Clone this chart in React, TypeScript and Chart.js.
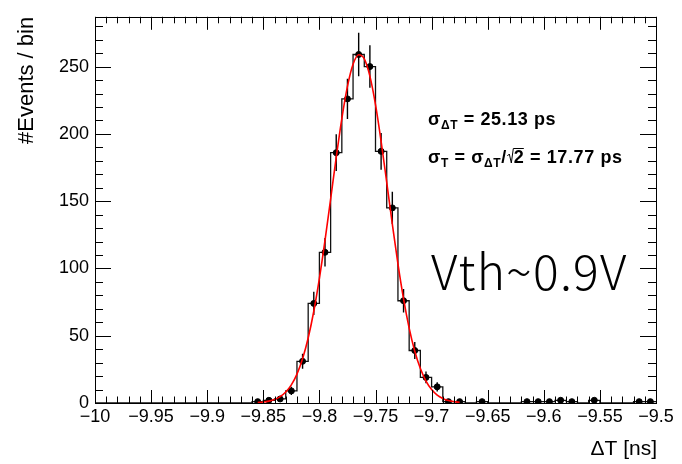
import React, { useEffect, useRef } from "react";
import { Chart, registerables } from "chart.js";

Chart.register(...registerables);

// ---- Data ----
const binCenters = [
  -9.995, -9.985, -9.975, -9.965, -9.955, -9.945, -9.935, -9.925, -9.915, -9.905,
  -9.895, -9.885, -9.875, -9.865, -9.855, -9.845, -9.835, -9.825, -9.815, -9.805,
  -9.795, -9.785, -9.775, -9.765, -9.755, -9.745, -9.735, -9.725, -9.715, -9.705,
  -9.695, -9.685, -9.675, -9.665, -9.655, -9.645, -9.635, -9.625, -9.615, -9.605,
  -9.595, -9.585, -9.575, -9.565, -9.555, -9.545, -9.535, -9.525, -9.515, -9.505,
];
const counts = [
  0, 0, 0, 0, 0, 0, 0, 0, 0, 0,
  0, 0, 0, 0, 1, 2, 3, 9, 31, 74,
  112, 186, 226, 259, 250, 187, 145, 76, 39, 19,
  12, 1, 1, 0, 1, 0, 0, 0, 1, 1,
  1, 2, 1, 0, 2, 0, 0, 0, 1, 1,
];
const binWidth = 0.01;

const fitX = [
  -9.855, -9.85, -9.845, -9.84, -9.835, -9.83, -9.825, -9.82, -9.815, -9.81,
  -9.805, -9.8, -9.795, -9.79, -9.785, -9.78, -9.775, -9.77, -9.765, -9.76,
  -9.755, -9.75, -9.745, -9.74, -9.735, -9.73, -9.725, -9.72, -9.715, -9.71,
  -9.705, -9.7, -9.695, -9.69, -9.685, -9.68, -9.675,
];
const fitY = [
  0.4, 0.7, 1.4, 2.6, 4.7, 8.2, 13.5, 21.5, 32.9, 48.3,
  68.2, 92.6, 120.8, 151.5, 182.5, 211.4, 235.3, 251.7, 258.8, 255.7,
  242.9, 221.7, 194.5, 164.0, 132.9, 103.4, 77.4, 55.7, 38.5, 25.6,
  16.3, 10.0, 5.9, 3.4, 1.8, 1.0, 0.5,
];

const xTickValues = [-10, -9.95, -9.9, -9.85, -9.8, -9.75, -9.7, -9.65, -9.6, -9.55, -9.5];
const xMinorStep = 0.01;
const yTickValues = [0, 50, 100, 150, 200, 250];
const yMinorStep = 10;
const xMin = -10;
const xMax = -9.5;
const yMin = 0;
const yMax = 287;

const xTitle = "\u0394T [ns]";
const yTitle = "#Events / bin";
const sigmaDT = "25.13 ps";
const sigmaT = "17.77 ps";
const vthLabel = "Vth~0.9V";

const FONT = "'Liberation Sans', Arial, Helvetica, sans-serif";

function fmtTick(v: number): string {
  const a = parseFloat(Math.abs(v).toFixed(2)).toString();
  return (v < 0 ? "\u2212" : "") + a;
}

const rootPlugin = {
  id: "rootStyle",
  beforeDatasetsDraw(chart: any) {
    const ctx = chart.ctx;
    const xs = chart.scales.x;
    const ys = chart.scales.y;
    ctx.save();
    ctx.beginPath();
    ctx.rect(chart.chartArea.left, chart.chartArea.top, chart.chartArea.right - chart.chartArea.left, chart.chartArea.bottom - chart.chartArea.top);
    ctx.clip();
    ctx.strokeStyle = "#000";
    ctx.lineWidth = 1.4;
    for (let i = 0; i < binCenters.length; i++) {
      const c = counts[i];
      if (c <= 0) continue;
      const e = Math.sqrt(c);
      const px = xs.getPixelForValue(binCenters[i]);
      ctx.beginPath();
      ctx.moveTo(px, ys.getPixelForValue(c - e));
      ctx.lineTo(px, ys.getPixelForValue(c + e));
      ctx.stroke();
    }
    ctx.restore();
  },
  afterDraw(chart: any) {
    const ctx = chart.ctx;
    const { left, right, top, bottom } = chart.chartArea;
    const xs = chart.scales.x;
    const ys = chart.scales.y;
    ctx.save();
    ctx.strokeStyle = "#000";
    ctx.lineWidth = 1;
    // frame
    ctx.strokeRect(Math.round(left) + 0.5, Math.round(top) + 0.5, Math.round(right - left), Math.round(bottom - top));
    // x ticks (bottom & top, inward)
    const nx = Math.round((xMax - xMin) / xMinorStep);
    for (let i = 0; i <= nx; i++) {
      const v = xMin + i * xMinorStep;
      const major = xTickValues.some((t) => Math.abs(t - v) < 1e-6);
      const len = major ? 13 : 6.5;
      const px = Math.round(xs.getPixelForValue(v)) + 0.5;
      ctx.beginPath();
      ctx.moveTo(px, bottom);
      ctx.lineTo(px, bottom - len);
      ctx.moveTo(px, top);
      ctx.lineTo(px, top + len);
      ctx.stroke();
    }
    // y ticks (left & right, inward)
    for (let v = yMin; v <= yMax; v += yMinorStep) {
      const major = yTickValues.includes(v);
      const len = major ? 16 : 8;
      const py = Math.round(ys.getPixelForValue(v)) + 0.5;
      ctx.beginPath();
      ctx.moveTo(left, py);
      ctx.lineTo(left + len, py);
      ctx.moveTo(right, py);
      ctx.lineTo(right - len, py);
      ctx.stroke();
    }
    // axis titles
    ctx.fillStyle = "#000";
    ctx.font = `21px ${FONT}`;
    ctx.textAlign = "right";
    ctx.textBaseline = "alphabetic";
    ctx.fillText(xTitle, right + 1, 455);
    ctx.save();
    ctx.translate(33, top);
    ctx.rotate(-Math.PI / 2);
    ctx.font = `22px ${FONT}`;
    ctx.textAlign = "right";
    ctx.fillText(yTitle, 0, 0);
    ctx.restore();

    // annotations
    ctx.textAlign = "left";
    (ctx as any).letterSpacing = "0.6px";
    const main = `bold 18px ${FONT}`;
    const sub = `bold 12px ${FONT}`;
    const draw = (x: number, y: number, parts: { t: string; f: string; dy?: number }[]) => {
      let cx = x;
      for (const p of parts) {
        ctx.font = p.f;
        ctx.fillText(p.t, cx, y + (p.dy || 0));
        cx += ctx.measureText(p.t).width;
      }
      return cx;
    };
    draw(428, 125, [
      { t: "\u03c3", f: main },
      { t: "\u0394T", f: sub, dy: 4 },
      { t: " = " + sigmaDT, f: main },
    ]);
    let cx = draw(428, 163, [
      { t: "\u03c3", f: main },
      { t: "T", f: sub, dy: 4 },
      { t: " = ", f: main },
      { t: "\u03c3", f: main },
      { t: "\u0394T", f: sub, dy: 4 },
      { t: "/", f: main },
    ]);
    // sqrt sign
    ctx.lineWidth = 1;
    ctx.beginPath();
    ctx.moveTo(cx + 0.5, 156);
    ctx.lineTo(cx + 2.5, 154);
    ctx.lineTo(cx + 4.5, 163);
    ctx.lineTo(cx + 6.5, 148.5);
    ctx.lineTo(cx + 17, 148.5);
    ctx.stroke();
    cx += 7;
    draw(cx, 163, [{ t: "2 = " + sigmaT, f: main }]);

    // Vth label
    (ctx as any).letterSpacing = "1.2px";
    ctx.font = `200 48px 'Noto Sans CJK SC', 'Noto Sans', sans-serif`;
    ctx.fillText(vthLabel, 431, 290);
    (ctx as any).letterSpacing = "0px";
    ctx.restore();
  },
};

export default function App() {
  const ref = useRef<HTMLCanvasElement | null>(null);
  useEffect(() => {
    if (!ref.current) return;
    Chart.defaults.font.family = FONT;
    const histPts: { x: number; y: number }[] = [];
    for (let i = 0; i < binCenters.length; i++) {
      histPts.push({ x: binCenters[i] - binWidth / 2, y: counts[i] });
    }
    histPts.push({ x: binCenters[binCenters.length - 1] + binWidth / 2, y: counts[counts.length - 1] });
    const markerPts = binCenters
      .map((c, i) => ({ x: c, y: counts[i] }))
      .filter((p) => p.y > 0);
    const fitPts = fitX.map((x, i) => ({ x, y: fitY[i] }));

    const chart = new Chart(ref.current, {
      type: "line",
      data: {
        datasets: [
          {
            label: "fit",
            data: fitPts,
            borderColor: "#ff0000",
            borderWidth: 1.6,
            pointRadius: 0,
            cubicInterpolationMode: "monotone",
            fill: false,
            order: 0,
          } as any,
          {
            label: "data",
            type: "scatter",
            data: markerPts,
            backgroundColor: "#000",
            borderColor: "#000",
            pointRadius: 3,
            pointStyle: "circle",
            order: 1,
          } as any,
          {
            label: "hist",
            data: histPts,
            borderColor: "#111",
            borderWidth: 1.3,
            pointRadius: 0,
            stepped: "before",
            fill: false,
            order: 2,
          } as any,
        ],
      },
      options: {
        animation: false,
        responsive: false,
        devicePixelRatio: 1,
        layout: { padding: { left: 0, right: 26, top: 8, bottom: 0 } },
        plugins: { legend: { display: false }, tooltip: { enabled: false }, title: { display: false } },
        scales: {
          x: {
            type: "linear",
            min: xMin,
            max: xMax,
            grid: { display: false, drawTicks: false },
            border: { display: false },
            afterBuildTicks: (s: any) => {
              s.ticks = xTickValues.map((v) => ({ value: v }));
            },
            afterFit: (s: any) => {
              s.height = 61;
            },
            ticks: {
              autoSkip: false,
              maxRotation: 0,
              padding: 3,
              color: "#000",
              font: { size: 18, family: FONT },
              callback: (v: any) => fmtTick(Number(v)),
            },
          },
          y: {
            type: "linear",
            min: yMin,
            max: yMax,
            grid: { display: false, drawTicks: false },
            border: { display: false },
            afterBuildTicks: (s: any) => {
              s.ticks = yTickValues.map((v) => ({ value: v }));
            },
            afterFit: (s: any) => {
              s.width = 95;
            },
            ticks: {
              autoSkip: false,
              padding: 6,
              color: "#000",
              font: { size: 18, family: FONT },
              callback: (v: any) => String(v),
            },
          },
        },
      },
      plugins: [rootPlugin],
    });
    return () => chart.destroy();
  }, []);

  return (
    <div style={{ position: "absolute", left: 0, top: 0, width: 682, height: 464, background: "#fff" }}>
      <canvas ref={ref} width={682} height={464} style={{ display: "block" }} />
    </div>
  );
}
